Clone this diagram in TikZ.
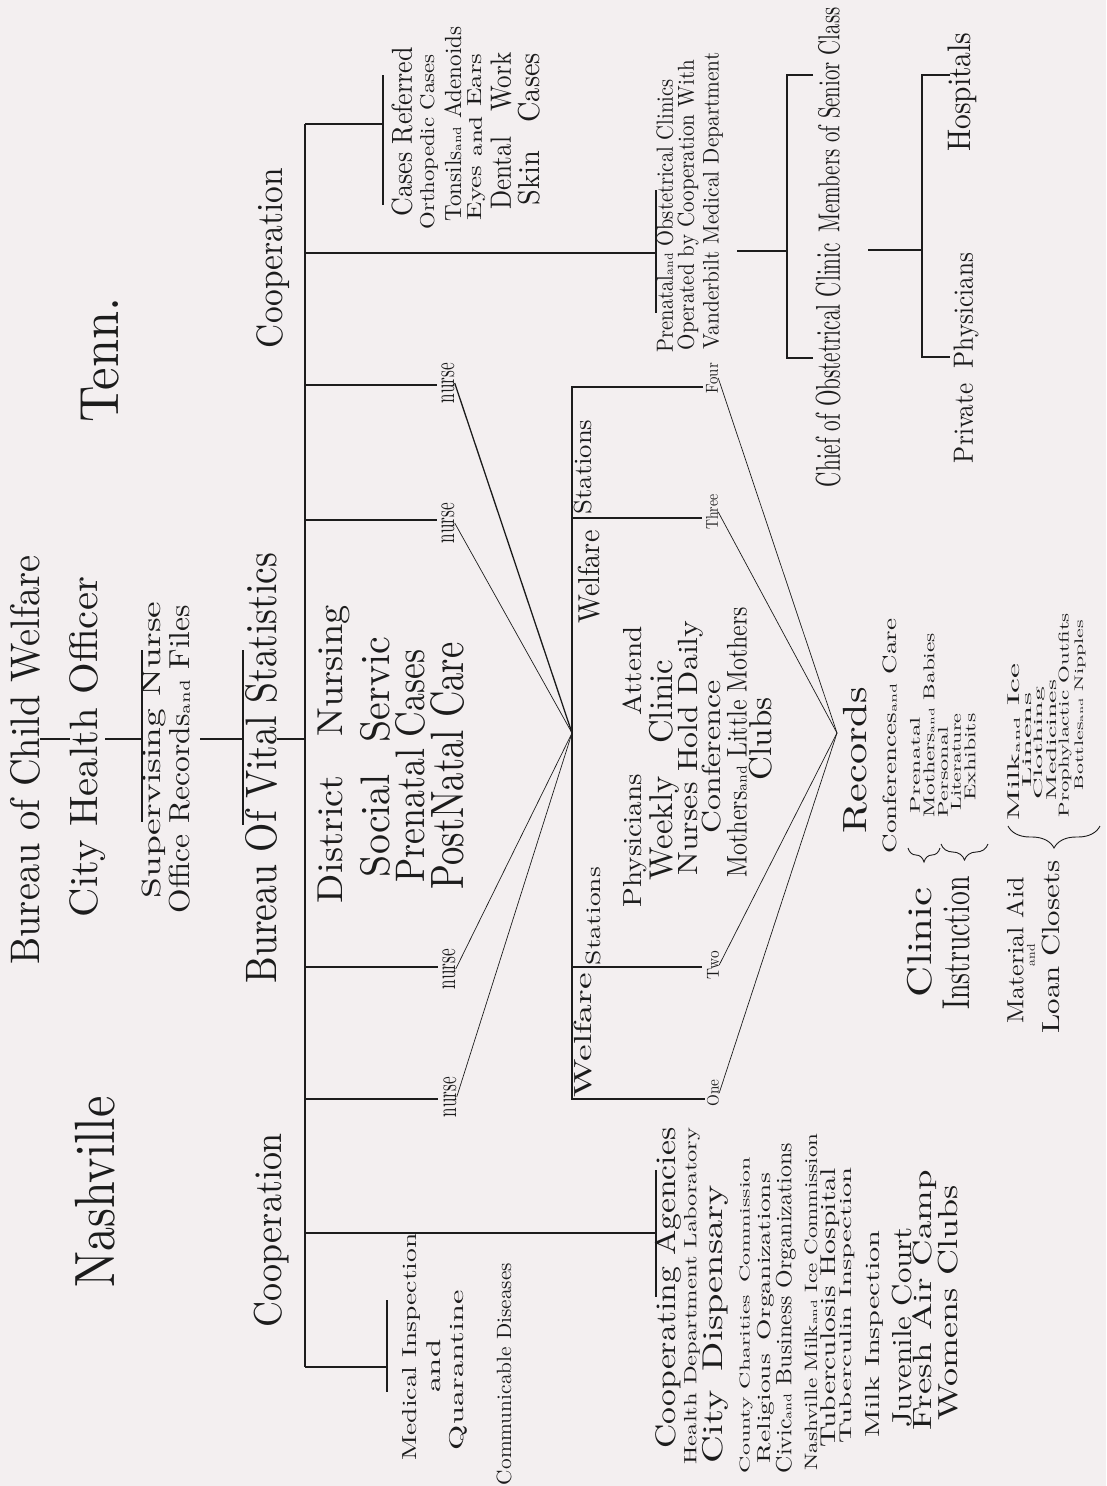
\documentclass[tikz,border=0pt]{standalone}
\usepackage{graphicx}
\usetikzlibrary{decorations.pathreplacing}
\definecolor{paper}{RGB}{243,239,240}
\definecolor{ink}{RGB}{28,28,28}
\newcommand{\fl}[3]{\resizebox*{#1pt}{#2pt}{#3}}
\newcommand{\sa}{{\tiny and}}
\begin{document}
\begin{tikzpicture}[x=1pt,y=-1pt,
  txt/.style={rotate=90,inner sep=0pt,text=ink,anchor=center},
  ln/.style={draw=ink,line width=1.3pt},
  bar/.style={draw=ink,line width=1.8pt},
  fan/.style={draw=ink,line width=0.7pt},
  fanb/.style={draw=ink,line width=1.3pt},
  brc/.style={draw=ink,line width=0.9pt,decorate}]
\fill[paper] (0,0) rectangle (1106,1486);
\useasboundingbox (0,0) rectangle (1106,1486);

% ---------- titles
\node[txt] (nash) at (95,1192) {\fl{191}{40}{Nashville}};
\node[txt] (tenn) at (100,360) {\fl{125}{38}{Tenn.}};
\node[txt] (bcw) at (25,760) {\fl{409}{30}{Bureau of Child Welfare}};
\node[txt] (cho) at (88,747) {\fl{340}{36}{City Health Officer}};
\node[txt] (sup) at (154,750) {\fl{297}{24}{Supervising Nurse}};
\node[txt] (ofr) at (180,759) {\fl{308}{21}{Office Records\sa\ Files}};
\node[txt] (bvs) at (261,768) {\fl{431}{32}{Bureau Of Vital Statistics}};
\node[txt] (coopT) at (273,258) {\fl{180}{33}{Cooperation}};
\node[txt] (coopL) at (272,1230) {\fl{194}{35}{Cooperation}};

% ---------- top chain
\coordinate (c1) at (40,739); \coordinate (c2) at (70,739);
\coordinate (c3) at (105,739); \coordinate (c4) at (142,739);
\coordinate (c5) at (200,739); \coordinate (c6) at (243,739);
\coordinate (c7) at (277,739); \coordinate (c8) at (305,739);
\draw[ln] (c1) -- (c2);
\draw[ln] (c3) -- (c4);
\draw[ln] (c5) -- (c6);
\draw[ln] (c7) -- (c8);
\draw[ln] (142,650) -- (142,822);
\draw[ln] (243,650) -- (243,825);

% ---------- spine and branches
\coordinate (sTop) at (305,124); \coordinate (sBot) at (305,1367);
\draw[ln] (sTop) -- (sBot);
\draw[ln] (sTop) -- (383,124);
\draw[bar] (383,75) -- (383,205);
\draw[ln] (305,253) -- (656,253);
\draw[ln] (656,190) -- (656,313);
\draw[ln] (305,385) -- (437,385);
\draw[ln] (305,520) -- (437,520);
\draw[ln] (305,967) -- (438,967);
\draw[ln] (305,1099) -- (438,1099);
\draw[ln] (305,1233) -- (656,1233);
\draw[ln] (656,1170) -- (656,1297);
\draw[ln] (sBot) -- (387,1367);
\draw[ln] (387,1300) -- (387,1392);

% ---------- District nursing block
\node[txt] (dn) at (334,754) {\fl{298}{32}{District\hspace{1em}Nursing}};
\node[txt] (ss) at (375,757) {\fl{240}{30}{Social\hspace{0.8em}Servic}};
\node[txt] (pc) at (410,766) {\fl{233}{30}{Prenatal Cases}};
\node[txt] (pnc) at (448,766) {\fl{247}{34}{PostNatal Care}};

% ---------- nurses and fan
\node[txt] (nA) at (448,383) {\fl{40}{13}{nurse}};
\node[txt] (nB) at (448,523) {\fl{40}{13}{nurse}};
\node[txt] (nC) at (449,969) {\fl{40}{13}{nurse}};
\node[txt] (nD) at (450,1097) {\fl{40}{13}{nurse}};
\coordinate (fanA) at (572,733);
\draw[fanb] (nA.south) -- (fanA);
\draw[fan] (nB.south) -- (fanA);
\draw[fan] (nC.south) -- (fanA);
\draw[fan] (nD.south) -- (fanA);

% ---------- Welfare stations box
\draw[ln] (703,387) -- (572,387) -- (572,1099) -- (705,1099);
\draw[ln] (572,518) -- (702,518);
\draw[ln] (572,967) -- (702,967);
\node[txt] (wsT1) at (583,467) {\fl{95}{18}{Stations}};
\node[txt] (wsT2) at (589,577) {\fl{93}{22}{Welfare}};
\node[txt] (wsB2) at (593,916) {\fl{98}{15}{Stations}};
\node[txt] (wsB1) at (583,1035) {\fl{124}{18}{Welfare}};
\node[txt] (four) at (712,378) {\fl{30}{12}{Four}};
\node[txt] (three) at (712,512) {\fl{35}{12}{Three}};
\node[txt] (two) at (713,965) {\fl{28}{12}{Two}};
\node[txt] (one) at (713,1093) {\fl{27}{12}{One}};

\node[txt] (phy) at (635,767) {\fl{281}{24}{Physicians\hspace{2em}Attend}};
\node[txt] (wc) at (664,770) {\fl{220}{30}{Weekly\hspace{1em}Clinic}};
\node[txt] (nhd) at (691,748) {\fl{255}{25}{Nurses Hold Daily}};
\node[txt] (conf) at (712,757) {\fl{153}{19}{Conference}};
\node[txt] (mlm) at (737,742) {\fl{270}{20}{Mothers\sa\ Little Mothers}};
\node[txt] (clubs) at (761,739) {\fl{83}{23}{Clubs}};

\coordinate (fanB) at (837,733);
\draw[fan] (four.south) -- (fanB);
\draw[fan] (three.south) -- (fanB);
\draw[fan] (two.south) -- (fanB);
\draw[fan] (one.south) -- (fanB);

% ---------- Cases referred
\node[txt] (cr) at (402,132) {\fl{169}{21}{Cases Referred}};
\node[txt] (oc) at (429,142) {\fl{175}{18}{Orthopedic Cases}};
\node[txt] (ta) at (453,124) {\fl{195}{17}{Tonsils\sa\ Adenoids}};
\node[txt] (ee) at (477,137) {\fl{167}{18}{Eyes {\small and} Ears}};
\node[txt] (dw) at (501,131) {\fl{157}{21}{Dental\hspace{1em}Work}};
\node[txt] (sc) at (529,129) {\fl{152}{22}{Skin\hspace{1em}Cases}};

% ---------- Prenatal obstetrical clinics
\node[txt] (poc) at (665,216) {\fl{273}{17}{Prenatal\sa\ Obstetrical Clinics}};
\node[txt] (ocw) at (688,205) {\fl{290}{21}{Operated by Cooperation With}};
\node[txt] (vmd) at (713,201) {\fl{297}{20}{Vanderbilt Medical Department}};
\draw[ln] (737,251) -- (787,251);
\draw[ln] (813,75) -- (787,75) -- (787,358) -- (813,358);
\node[txt] (chief) at (828,365) {\fl{244}{25}{Chief of Obstetrical Clinic}};
\node[txt] (mem) at (829,120) {\fl{225}{22}{Members of Senior Class}};
\coordinate (pvA) at (868,250);
\draw[ln] (pvA) -- (922,250);
\draw[ln] (950,75) -- (922,75) -- (922,357) -- (950,357);
\node[txt] (pp) at (966,358) {\fl{210}{25}{Private\hspace{0.6em}Physicians}};
\node[txt] (hosp) at (962,92) {\fl{119}{29}{Hospitals}};

% ---------- Cooperating agencies
\node[txt] (ca1) at (668,1288) {\fl{321}{26}{Cooperating Agencies}};
\node[txt] (ca2) at (692,1296) {\fl{337}{16}{Health Department Laboratory}};
\node[txt] (ca3) at (715,1324) {\fl{278}{26}{City\hspace{0.5em}Dispensary}};
\node[txt] (ca4) at (746,1315) {\fl{316}{13}{County Charities\hspace{0.5em}Commission}};
\node[txt] (ca5) at (766,1318) {\fl{290}{17}{Religious\hspace{0.5em}Organizations}};
\node[txt] (ca6) at (786,1308) {\fl{330}{20}{Civic\sa\ Business Organizations}};
\node[txt] (ca7) at (811,1302) {\fl{337}{13}{Nashville Milk\sa\ Ice Commission}};
\node[txt] (ca8) at (830,1308) {\fl{279}{19}{Tuberculosis Hospital}};
\node[txt] (ca9) at (847,1305) {\fl{276}{15}{Tuberculin Inspection}};
\node[txt] (ca10) at (874,1334) {\fl{207}{18}{Milk Inspection}};
\node[txt] (ca11) at (902,1327) {\fl{200}{20}{Juvenile Court}};
\node[txt] (ca12) at (925,1300) {\fl{260}{24}{Fresh Air Camp}};
\node[txt] (ca13) at (948,1303) {\fl{235}{20}{Womens Clubs}};

% ---------- Medical inspection
\node[txt] (mi) at (411,1347) {\fl{227}{18}{Medical Inspection}};
\node[txt] (and1) at (434,1366) {\fl{53}{14}{and}};
\node[txt] (quar) at (458,1370) {\fl{160}{18}{Quarantine}};
\node[txt] (cd) at (504,1374) {\fl{222}{15}{Communicable Diseases}};

% ---------- Records
\node[txt] (rec) at (855,760) {\fl{146}{24}{Records}};
\node[txt] (cac) at (890,736) {\fl{235}{14}{Conferences\sa\ Care}};
\node[txt] (clinic) at (920,942) {\fl{110}{25}{Clinic}};
\node[txt] (instr) at (956,943) {\fl{133}{27}{Instruction}};
\node[txt] (pren) at (915,765) {\fl{96}{10}{Prenatal}};
\node[txt] (mab) at (929,725) {\fl{184}{11}{Mothers\sa\ Babies}};
\node[txt] (pers) at (943,772) {\fl{90}{10}{Personal}};
\node[txt] (lit) at (956,762) {\fl{97}{10}{Literature}};
\node[txt] (exh) at (970,757) {\fl{87}{11}{Exhibits}};
\node[txt] (mik) at (1014,742) {\fl{157}{12}{Milk\sa\ Ice}};
\node[txt] (lin) at (1027,740) {\fl{94}{9}{Linens}};
\node[txt] (clo) at (1039,743) {\fl{113}{11}{Clothing}};
\node[txt] (med) at (1052,740) {\fl{120}{10}{Medicines}};
\node[txt] (pro) at (1065,715) {\fl{204}{13}{Prophylactic Outfits}};
\node[txt] (bot) at (1080,705) {\fl{170}{11}{Bottles\sa\ Nipples}};
\node[txt] (mat) at (1015,950) {\fl{146}{17}{Material Aid}};
\node[txt] (and2) at (1031,955) {\fl{22}{8}{and}};
\node[txt] (loan) at (1051,947) {\fl{173}{18}{Loan\hspace{0.3em}Closets}};
\draw[brc,decoration={brace,amplitude=14pt}] (940,848) -- (908,848);
\draw[brc,decoration={brace,amplitude=16pt}] (988,844) -- (941,844);
\draw[brc,decoration={brace,amplitude=22pt}] (1100,826) -- (1008,826);
\end{tikzpicture}
\end{document}
